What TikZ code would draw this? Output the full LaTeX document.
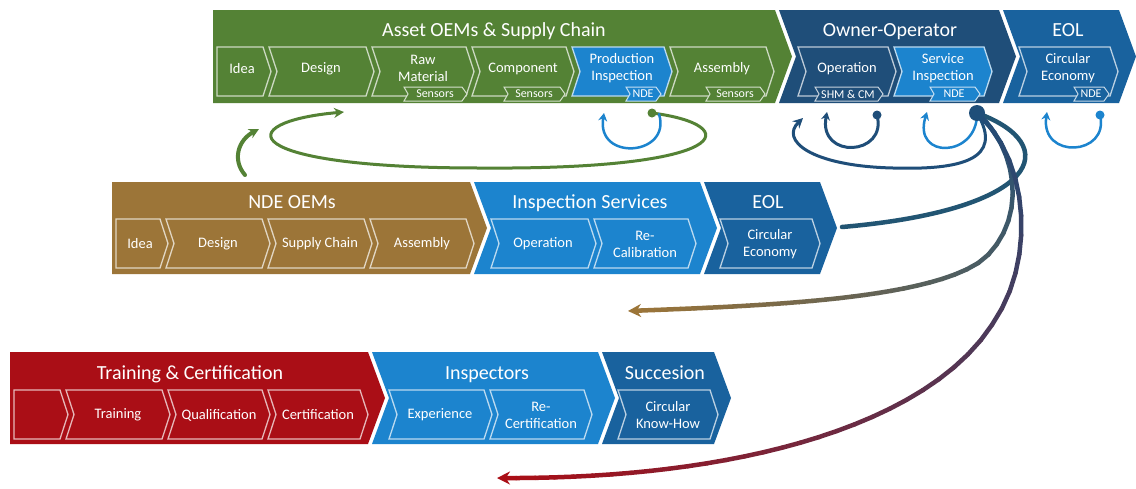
\documentclass[tikz,border=0pt]{standalone}
\usepackage{fontspec}
\setmainfont{Carlito}
\usetikzlibrary{arrows.meta,decorations.markings}

% chevron: #1 style, #2 left x, #3 right x, #4 top y, #5 bottom y, #6 notch depth, #7 tip depth
\newcommand{\chev}[7]{\path[#1] (#2,#4) -- (#3,#4) -- ({#3+#7},{(#4+#5)/2}) -- (#3,#5) -- (#2,#5) -- ({#2+#6},{(#4+#5)/2}) -- cycle;}

\begin{document}
\begin{tikzpicture}[x=1pt,y=-1pt,>={Stealth[length=10pt,width=10pt]},
  hdr/.style={fill=#1},
  sub/.style={fill=#1, draw=#1!30!white, line width=1.3pt},
  tag/.style={fill=#1, draw=#1!25!white, line width=1pt},
  ttl/.style={text=white, font=\fontsize{20}{24}\selectfont, anchor=base},
  lbl/.style={text=white, font=\fontsize{14.5}{17}\selectfont, align=center, inner sep=0pt},
  tg/.style={text=white, font=\fontsize{12}{13}\selectfont, inner sep=0pt},
  cyc/.style={line width=3pt, ->, line cap=round},
  grad/.style={line width=4.5pt, line cap=round}]

\definecolor{cGreen}{RGB}{84,130,53}
\definecolor{cNavy}{RGB}{31,78,121}
\definecolor{cEol}{RGB}{25,98,158}
\definecolor{cLight}{RGB}{28,132,206}
\definecolor{cBrown}{RGB}{156,117,56}
\definecolor{cRed}{RGB}{170,14,22}
\definecolor{cTeal}{RGB}{34,85,115}

\path[use as bounding box, fill=white] (0,0) rectangle (1136,488);

% asset row
\chev{hdr=cGreen}{213}{775}{10}{103}{0}{17}
\chev{hdr=cNavy}{779}{999}{10}{103}{17}{17}
\chev{hdr=cEol}{1003}{1119}{10}{103}{17}{17}
\chev{sub=cGreen}{217}{263}{47}{96}{0}{8}
\chev{sub=cGreen}{269}{366}{47}{96}{8}{8}
\chev{sub=cGreen}{372}{466}{47}{96}{8}{8}
\chev{sub=cGreen}{472}{566}{47}{96}{8}{8}
\chev{sub=cLight}{572}{664}{47}{96}{8}{8}
\chev{sub=cGreen}{670}{766}{47}{96}{8}{8}
\chev{sub=cNavy}{798}{888}{47}{96}{8}{8}
\chev{sub=cLight}{894}{984}{47}{96}{8}{8}
\chev{sub=cEol}{1019}{1110}{47}{96}{8}{8}
\chev{tag=cGreen}{404}{462}{87}{101}{4}{5}
\chev{tag=cGreen}{504}{560}{87}{101}{4}{5}
\chev{tag=cLight}{626}{656}{87}{101}{4}{5}
\chev{tag=cGreen}{706}{760}{87}{101}{4}{5}
\chev{tag=cNavy}{815}{878}{87}{101}{4}{5}
\chev{tag=cLight}{930}{975}{87}{101}{4}{5}
\chev{tag=cEol}{1074}{1104}{87}{101}{4}{5}

\node[ttl] (aoem) at (494,36) {Asset OEMs \& Supply Chain};
\node[ttl] (owner) at (890,36) {Owner-Operator};
\node[ttl] (eolA) at (1068,36) {EOL};
\node[lbl] (aIdea) at (242,69) {Idea};
\node[lbl] (aDesign) at (321,69) {Design};
\node[lbl] (aRaw) at (423,68) {Raw\\Material};
\node[lbl] (aComp) at (523,69) {Component};
\node[lbl] (aProd) at (622,68) {Production\\Inspection};
\node[lbl] (aAssy) at (722,69) {Assembly};
\node[lbl] (aOper) at (847,69) {Operation};
\node[lbl] (aServ) at (943,68) {Service\\Inspection};
\node[lbl] (aCirc) at (1068,68) {Circular\\Economy};
\node[tg] (sRaw) at (435,94) {Sensors};
\node[tg] (sComp) at (534,94) {Sensors};
\node[tg] (nProd) at (643,94) {NDE};
\node[tg] (sAssy) at (735,94) {Sensors};
\node[tg] (mOper) at (848,94) {SHM \& CM};
\node[tg] (nServ) at (954,94) {NDE};
\node[tg] (nCirc) at (1091,94) {NDE};

% nde row
\chev{hdr=cBrown}{112}{470}{182}{274}{0}{17}
\chev{hdr=cLight}{474}{700}{182}{274}{17}{17}
\chev{hdr=cEol}{704}{820}{182}{274}{17}{17}
\chev{sub=cBrown}{116}{160}{219}{268}{0}{8}
\chev{sub=cBrown}{166}{262}{219}{268}{8}{8}
\chev{sub=cBrown}{268}{364}{219}{268}{8}{8}
\chev{sub=cBrown}{370}{466}{219}{268}{8}{8}
\chev{sub=cLight}{491}{588}{219}{268}{8}{8}
\chev{sub=cLight}{594}{688}{219}{268}{8}{8}
\chev{sub=cEol}{720}{812}{219}{268}{8}{8}

\node[ttl] (ndeoem) at (292,208) {NDE OEMs};
\node[ttl] (insserv) at (590,208) {Inspection Services};
\node[ttl] (eolB) at (768,208) {EOL};
\node[lbl] (bIdea) at (140,244) {Idea};
\node[lbl] (bDesign) at (218,244) {Design};
\node[lbl] (bSupply) at (320,244) {Supply Chain};
\node[lbl] (bAssy) at (422,244) {Assembly};
\node[lbl] (bOper) at (543,244) {Operation};
\node[lbl] (bRecal) at (645,244) {Re-\\Calibration};
\node[lbl] (bCirc) at (770,244) {Circular\\Economy};

% people row
\chev{hdr=cRed}{10}{368}{352}{444}{0}{17}
\chev{hdr=cLight}{372}{598}{352}{444}{17}{17}
\chev{hdr=cEol}{602}{714}{352}{444}{17}{17}
\chev{sub=cRed}{14}{60}{390}{439}{0}{8}
\chev{sub=cRed}{66}{162}{390}{439}{8}{8}
\chev{sub=cRed}{168}{262}{390}{439}{8}{8}
\chev{sub=cRed}{268}{360}{390}{439}{8}{8}
\chev{sub=cLight}{389}{484}{390}{439}{8}{8}
\chev{sub=cLight}{490}{584}{390}{439}{8}{8}
\chev{sub=cEol}{618}{710}{390}{439}{8}{8}

\node[ttl] (trcert) at (190,379) {Training \& Certification};
\node[ttl] (insp) at (487,379) {Inspectors};
\node[ttl] (succ) at (665,379) {Succesion};
\node[lbl] (cTrain) at (118,415) {Training};
\node[lbl] (cQual) at (219,415) {Qualification};
\node[lbl] (cCert) at (318,415) {Certification};
\node[lbl] (cExp) at (440,415) {Experience};
\node[lbl] (cRecert) at (541,415) {Re-\\Certification};
\node[lbl] (cKnow) at (668,415) {Circular\\Know-How};

% loops and flows
\coordinate (gA) at (245,175);
\coordinate (gB) at (259,129);
\coordinate (gdot) at (652,113);
\coordinate (gtip) at (344,112);
\coordinate (pstart) at (659,114);
\coordinate (ptip) at (604,113);
\coordinate (odot) at (877,115);
\coordinate (otip) at (827,112);
\coordinate (sdot) at (977,113);
\coordinate (stip) at (927,112);
\coordinate (ltip) at (803,118);
\coordinate (edot) at (1100,115);
\coordinate (etip) at (1047,112);
\coordinate (eolend) at (842,227);
\coordinate (btip) at (628,311);
\coordinate (rtip) at (497,478);

\draw[cyc, cGreen, line width=4pt] (gA) .. controls (232,160) and (238,140) .. (gB);
\draw[cyc, cGreen] (gdot) .. controls (745,125) and (735,170) .. (480,168) .. controls (235,168) and (230,122) .. (gtip);
\draw[cyc, cLight, line width=2.5pt, >={Stealth[length=8pt,width=9pt]}] (pstart) .. controls (672,156) and (596,162) .. (ptip);
\draw[cyc, cNavy, >={Stealth[length=8pt,width=9pt]}] (odot) .. controls (888,156) and (818,160) .. (otip);
\draw[cyc, cLight, line width=2.5pt, >={Stealth[length=8pt,width=9pt]}] (sdot) .. controls (978,158) and (912,160) .. (stip);
\draw[cyc, cLight, line width=2.5pt, >={Stealth[length=8pt,width=9pt]}] (edot) .. controls (1110,156) and (1040,160) .. (etip);
\draw[cyc, cNavy] (sdot) .. controls (1005,160) and (960,170) .. (893,168) .. controls (810,166) and (780,140) .. (ltip);
\draw[grad, cTeal] (sdot) .. controls (1065,145) and (1040,210) .. (eolend);

\path[decorate, decoration={markings, mark=between positions 0 and 1 step 0.025 with {\coordinate (b\pgfkeysvalueof{/pgf/decoration/mark info/sequence number}) at (0,0);}}]
  (sdot) .. controls (1015,145) and (1030,215) .. (985,258) .. controls (935,300) and (760,306) .. (btip);
\path[decorate, decoration={markings, mark=between positions 0 and 1 step 0.025 with {\coordinate (r\pgfkeysvalueof{/pgf/decoration/mark info/sequence number}) at (0,0);}}]
  (sdot) .. controls (1030,160) and (1035,260) .. (995,320) .. controls (935,420) and (750,480) .. (rtip);
\foreach \i [evaluate=\i as \j using int(\i+1), evaluate=\i as \p using 2.5*\i] in {1,...,39}
  \draw[grad, cBrown!\p!cNavy] (b\i) -- (b\j);
\draw[grad, cBrown, -{Stealth[length=13pt,width=13pt]}] (b40) -- (btip);
\foreach \i [evaluate=\i as \j using int(\i+1), evaluate=\i as \p using 2.5*\i] in {1,...,39}
  \draw[grad, cRed!\p!cNavy] (r\i) -- (r\j);
\draw[grad, cRed, -{Stealth[length=13pt,width=13pt]}] (r40) -- (rtip);

\fill[cGreen] (gdot) circle (4.5);
\fill[cNavy] (odot) circle (4.5);
\fill[cLight] (edot) circle (4.5);
\fill[cNavy] (sdot) circle (8);
\end{tikzpicture}
\end{document}
